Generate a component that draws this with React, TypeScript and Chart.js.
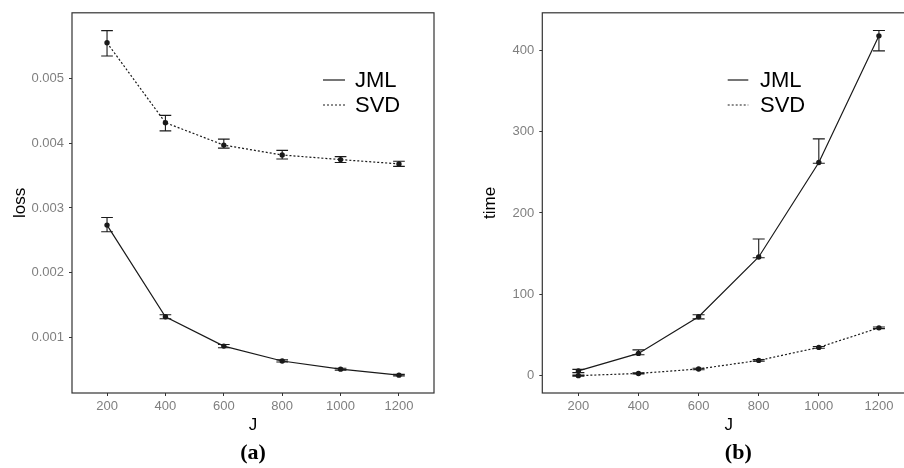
import React, { useEffect, useRef } from 'react';
import { Chart, registerables } from 'chart.js';

Chart.register(...registerables);

// ---- data ----
const J = [200, 400, 600, 800, 1000, 1200];

const lossJML = [0.002736, 0.001325, 0.000872, 0.000643, 0.000517, 0.000425];
const lossJMLLow = [0.002634, 0.001294, 0.000848, 0.000627, 0.000502, 0.000413];
const lossJMLHigh = [0.002852, 0.001355, 0.000898, 0.00066, 0.000532, 0.000437];

const lossSVD = [0.005544, 0.004314, 0.003968, 0.003816, 0.003745, 0.003679];
const lossSVDLow = [0.00534, 0.004188, 0.003922, 0.003755, 0.0037, 0.00364];
const lossSVDHigh = [0.005732, 0.004426, 0.00406, 0.003887, 0.00379, 0.00372];

const timeJML = [6.1, 27.6, 72.6, 146, 262, 417.5];
const timeJMLLow = [4, 26, 70, 145, 261, 399];
const timeJMLHigh = [8, 32, 75, 168, 291, 424];

const timeSVD = [0.3, 3, 8.5, 19, 35, 59];
const timeSVDLow = [-0.5, 2.3, 7.6, 18, 34, 58];
const timeSVDHigh = [1, 3.7, 9.4, 20, 36, 60];

const lossTicks = [0.001, 0.002, 0.003, 0.004, 0.005];
const timeTicks = [0, 100, 200, 300, 400];
const seriesNames = ['JML', 'SVD'];

// ---- styles ----
const INK = '#1a1a1a';
const TICK_COLOR = '#333333';
const TICK_LABEL = '#7f7f7f';
const SANS = '"Liberation Sans", Arial, sans-serif';
const SERIF = '"Liberation Serif", "Times New Roman", serif';

const errorBarPlugin = {
  id: 'errorBars',
  afterDatasetsDraw(chart: any, _args: any, opts: any) {
    const { ctx } = chart;
    const xs = chart.scales.x;
    const ys = chart.scales.y;
    ctx.save();
    ctx.strokeStyle = INK;
    ctx.lineWidth = 1.1;
    ctx.setLineDash([]);
    (opts.low as number[][]).forEach((lowArr, di) => {
      const highArr = opts.high[di];
      J.forEach((xv, i) => {
        const x = xs.getPixelForValue(xv);
        const xl = xs.getPixelForValue(xv - opts.capUnits / 2);
        const xr = xs.getPixelForValue(xv + opts.capUnits / 2);
        const yl = ys.getPixelForValue(lowArr[i]);
        const yh = ys.getPixelForValue(highArr[i]);
        ctx.beginPath();
        ctx.moveTo(x, yl);
        ctx.lineTo(x, yh);
        ctx.moveTo(xl, yl);
        ctx.lineTo(xr, yl);
        ctx.moveTo(xl, yh);
        ctx.lineTo(xr, yh);
        ctx.stroke();
      });
    });
    ctx.restore();
  },
};

const framePlugin = {
  id: 'frame',
  afterDraw(chart: any) {
    const { ctx, chartArea: a } = chart;
    ctx.save();
    ctx.strokeStyle = TICK_COLOR;
    ctx.lineWidth = 1.2;
    ctx.strokeRect(a.left, a.top, a.right - a.left, a.bottom - a.top);
    ctx.restore();
  },
};

const legendPlugin = {
  id: 'innerLegend',
  afterDraw(chart: any, _args: any, opts: any) {
    const { ctx } = chart;
    ctx.save();
    chart.data.datasets.forEach((ds: any, i: number) => {
      const y = opts.y + i * opts.dy;
      ctx.strokeStyle = ds.borderColor;
      ctx.lineWidth = ds.borderWidth;
      ctx.setLineDash(ds.borderDash || []);
      ctx.beginPath();
      ctx.moveTo(opts.x0, y);
      ctx.lineTo(opts.x1, y);
      ctx.stroke();
      ctx.setLineDash([]);
      ctx.fillStyle = '#000';
      ctx.font = `22px ${SANS}`;
      ctx.textAlign = 'left';
      ctx.textBaseline = 'middle';
      ctx.fillText(ds.label, opts.tx, y + 1);
    });
    ctx.restore();
  },
};

const captionPlugin = {
  id: 'caption',
  afterDraw(chart: any, _args: any, opts: any) {
    const { ctx } = chart;
    ctx.save();
    ctx.fillStyle = '#000';
    ctx.font = `bold 22px ${SERIF}`;
    ctx.textAlign = 'center';
    ctx.textBaseline = 'middle';
    ctx.fillText(opts.text, opts.x, opts.y);
    ctx.restore();
  },
};

type PanelCfg = {
  jml: number[];
  svd: number[];
  low: number[][];
  high: number[][];
  yMin: number;
  yMax: number;
  yTicks: number[];
  yDecimals: number;
  yTitle: string;
  yTitlePad: number;
  yWidth: number;
  padRight: number;
  legend: { x0: number; x1: number; tx: number; y: number; dy: number };
  caption: { text: string; x: number; y: number };
};

function makeChart(canvas: HTMLCanvasElement, p: PanelCfg) {
  const mk = (label: string, vals: number[], dash: number[]) => ({
    label,
    data: J.map((x, i) => ({ x, y: vals[i] })),
    borderColor: INK,
    borderWidth: 1.2,
    borderDash: dash,
    pointRadius: 2.7,
    pointBackgroundColor: INK,
    pointBorderWidth: 0,
    tension: 0,
    fill: false,
  });
  return new Chart(canvas, {
    type: 'line',
    data: {
      datasets: [mk(seriesNames[0], p.jml, []), mk(seriesNames[1], p.svd, [2, 2])],
    },
    options: {
      responsive: false,
      animation: false,
      events: [],
      layout: { padding: { top: 9, right: p.padRight, bottom: 0, left: 0 } },
      scales: {
        x: {
          type: 'linear',
          min: 80,
          max: 1320,
          afterFit: (s: any) => {
            s.height = 75;
          },
          afterBuildTicks: (s: any) => {
            s.ticks = J.map((v) => ({ value: v }));
          },
          grid: { drawOnChartArea: false, drawTicks: true, tickLength: 3, color: TICK_COLOR, lineWidth: 1 },
          border: { display: false },
          ticks: {
            font: { family: SANS, size: 13 },
            color: TICK_LABEL,
            padding: 3,
            maxRotation: 0,
            autoSkip: false,
            callback: (v: any) => String(v),
          },
          title: {
            display: true,
            text: 'J',
            font: { family: SANS, size: 17 },
            color: '#000',
            padding: { top: 0, bottom: 32 },
          },
        },
        y: {
          type: 'linear',
          min: p.yMin,
          max: p.yMax,
          afterFit: (s: any) => {
            s.width = p.yWidth;
          },
          afterBuildTicks: (s: any) => {
            s.ticks = p.yTicks.map((v) => ({ value: v }));
          },
          grid: { drawOnChartArea: false, drawTicks: true, tickLength: 3, color: TICK_COLOR, lineWidth: 1 },
          border: { display: false },
          ticks: {
            font: { family: SANS, size: 13 },
            color: TICK_LABEL,
            padding: 5,
            autoSkip: false,
            callback: (v: any) => Number(v).toFixed(p.yDecimals),
          },
          title: {
            display: true,
            text: p.yTitle,
            font: { family: SANS, size: 17 },
            color: '#000',
            padding: { top: p.yTitlePad, bottom: 0 },
          },
        },
      },
      plugins: {
        legend: { display: false },
        tooltip: { enabled: false },
        errorBars: { low: p.low, high: p.high, capUnits: 40 },
        innerLegend: p.legend,
        caption: p.caption,
      } as any,
    },
    plugins: [errorBarPlugin, framePlugin, legendPlugin, captionPlugin],
  } as any);
}

export default function App() {
  const leftRef = useRef<HTMLCanvasElement>(null);
  const rightRef = useRef<HTMLCanvasElement>(null);

  useEffect(() => {
    const left = makeChart(leftRef.current!, {
      jml: lossJML,
      svd: lossSVD,
      low: [lossJMLLow, lossSVDLow],
      high: [lossJMLHigh, lossSVDHigh],
      yMin: 0.00015,
      yMax: 0.006006,
      yTicks: lossTicks,
      yDecimals: 3,
      yTitle: 'loss',
      yTitlePad: 10,
      yWidth: 72,
      padRight: 16,
      legend: { x0: 323, x1: 345, tx: 355, y: 80, dy: 25 },
      caption: { text: '(a)', x: 253, y: 453 },
    });
    const right = makeChart(rightRef.current!, {
      jml: timeJML,
      svd: timeSVD,
      low: [timeJMLLow, timeSVDLow],
      high: [timeJMLHigh, timeSVDHigh],
      yMin: -21.0,
      yMax: 445.8,
      yTicks: timeTicks,
      yDecimals: 0,
      yTitle: 'time',
      yTitlePad: 30,
      yWidth: 92.3,
      padRight: 5,
      legend: { x0: 277.7, x1: 298.3, tx: 310, y: 80, dy: 25 },
      caption: { text: '(b)', x: 288.3, y: 453 },
    });
    return () => {
      left.destroy();
      right.destroy();
    };
  }, []);

  return (
    <div
      style={{
        position: 'fixed',
        left: 0,
        top: 0,
        width: 904,
        height: 468,
        overflow: 'hidden',
        background: '#fff',
      }}
    >
      <canvas ref={leftRef} width={450} height={468} style={{ position: 'absolute', left: 0, top: 0, display: 'block' }} />
      <canvas ref={rightRef} width={470} height={468} style={{ position: 'absolute', left: 450, top: 0, display: 'block' }} />
    </div>
  );
}
